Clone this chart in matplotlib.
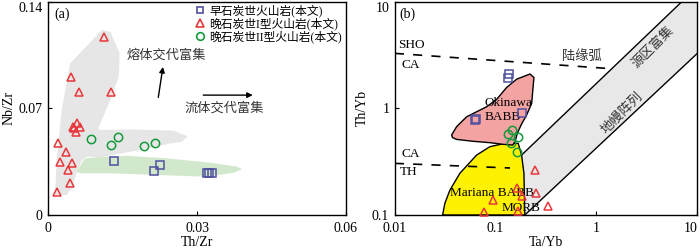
import numpy as np
import matplotlib
matplotlib.use('Agg')
import matplotlib.pyplot as plt
from matplotlib.patches import Polygon
from matplotlib.lines import Line2D
from matplotlib.ticker import NullLocator

plt.rcParams.update({
    'font.family': ['Liberation Serif', 'Noto Sans CJK SC'],
    'font.size': 10, 'axes.linewidth': 1.0,
    'xtick.direction': 'in', 'ytick.direction': 'in',
    'xtick.major.size': 3, 'ytick.major.size': 3,
    'xtick.major.pad': 5, 'ytick.major.pad': 4,
})
BLUE = '#50509e'; RED = '#e8373c'; GREEN = '#159a3c'

# ---------- data: (a) Th/Zr vs Nb/Zr ----------
a_tri_x = [0.0112, 0.0045, 0.0062, 0.0127, 0.0057, 0.0049, 0.0063, 0.0052,
           0.0056, 0.0020, 0.0036, 0.0024, 0.0047, 0.0039, 0.0044, 0.0018]
a_tri_y = [0.1169, 0.0908, 0.0809, 0.0805, 0.0601, 0.0579, 0.0579, 0.0569,
           0.0547, 0.0470, 0.0415, 0.0349, 0.0344, 0.0295, 0.0212, 0.0153]
a_cir_x = [0.0086, 0.0127, 0.0141, 0.0194, 0.0216]
a_cir_y = [0.0499, 0.0462, 0.0509, 0.0455, 0.0472]
a_sq_x = [0.0132, 0.0213, 0.0226, 0.0320, 0.0325, 0.0330]
a_sq_y = [0.0354, 0.0291, 0.0328, 0.0274, 0.0274, 0.0274]

melt_field = [(0.00135, 0.0131), (0.0017, 0.0361), (0.0027, 0.0689), (0.0044, 0.0995),
              (0.0108, 0.1214), (0.0125, 0.1203), (0.0144, 0.1061), (0.0142, 0.0907),
              (0.0125, 0.0754), (0.0101, 0.0569), (0.0105, 0.0558), (0.0172, 0.0562),
              (0.0253, 0.0553), (0.0281, 0.0518), (0.0270, 0.0481), (0.0246, 0.0470),
              (0.0192, 0.0431), (0.0105, 0.0379), (0.0078, 0.0383), (0.0068, 0.0361),
              (0.0057, 0.0273), (0.0047, 0.0175), (0.0037, 0.0131)]
fluid_field = [(0.0057, 0.0284), (0.0074, 0.0372), (0.0111, 0.0382), (0.0158, 0.0389),
               (0.0239, 0.0372), (0.0327, 0.0343), (0.0381, 0.0317), (0.0391, 0.0300),
               (0.0374, 0.0278), (0.0320, 0.0251), (0.0226, 0.0262), (0.0125, 0.0274),
               (0.0064, 0.0274)]

# ---------- data: (b) Ta/Yb vs Th/Yb ----------
b_sq_x = [0.1365, 0.1315, 0.0626, 0.0646, 0.181]
b_sq_y = [2.10, 1.91, 0.777, 0.799, 0.898]
b_cir_x = [0.144, 0.1315, 0.168, 0.142, 0.162]
b_cir_y = [0.626, 0.574, 0.535, 0.470, 0.392]
b_tri_x = [0.245, 0.162, 0.249, 0.181, 0.0933, 0.333, 0.0766, 0.168]
b_tri_y = [0.264, 0.178, 0.162, 0.151, 0.138, 0.121, 0.107, 0.109]

okinawa = [(0.0366, 0.562), (0.0410, 0.673), (0.0516, 0.834), (0.0648, 0.929),
           (0.0814, 1.035), (0.102, 1.21), (0.1286, 1.57), (0.162, 1.88),
           (0.219, 2.10), (0.240, 1.95), (0.234, 1.48), (0.228, 1.114),
           (0.203, 0.865), (0.181, 0.713), (0.164, 0.583), (0.156, 0.486),
           (0.1476, 0.453), (0.119, 0.460), (0.0877, 0.477), (0.060, 0.491),
           (0.041, 0.512), (0.0374, 0.532)]
mariana = [(0.0298, 0.1), (0.0314, 0.129), (0.0352, 0.171), (0.0442, 0.246),
           (0.0648, 0.365), (0.0877, 0.437), (0.1236, 0.470), (0.1675, 0.470),
           (0.181, 0.365), (0.191, 0.246), (0.195, 0.1)]
array_upper = [(0.181, 0.365), (7.03, 10.0)]
array_lower = [(0.195, 0.1), (10.0, 3.27)]
sho_ca = [(0.01, 3.28), (1.45, 2.35)]
ca_th = [(0.01, 0.305), (0.139, 0.276)]

labels = ['早石炭世火山岩(本文)', '晚石炭世I型火山岩(本文)', '晚石炭世II型火山岩(本文)']

fig = plt.figure(figsize=(7.0, 2.48), dpi=100)
ax1 = fig.add_axes([0.069, 0.133, 0.425, 0.860])
ax2 = fig.add_axes([0.564, 0.133, 0.432, 0.860])

mk = dict(ls='none', mfc='none', mew=1.1, zorder=6)

# ---------- panel (a) ----------
ax = ax1
ax.add_patch(Polygon(melt_field, closed=True, fc='#e6e6e6', ec='none', zorder=1))
ax.add_patch(Polygon(fluid_field, closed=True, fc='#d2e8cc', ec='none', zorder=1))
ax.plot(a_sq_x, a_sq_y, marker='s', ms=5.5, mec=BLUE, **mk)
ax.plot(a_tri_x, a_tri_y, marker='^', ms=6, mec=RED, **mk)
ax.plot(a_cir_x, a_cir_y, marker='o', ms=6, mec=GREEN, **mk)
ax.annotate('', xy=(0.0232, 0.0990), xytext=(0.0221, 0.0754),
            arrowprops=dict(arrowstyle='-|>', color='k', lw=1.0, mutation_scale=8))
ax.annotate('', xy=(0.0418, 0.0787), xytext=(0.0307, 0.0787),
            arrowprops=dict(arrowstyle='-|>', color='k', lw=1.0, mutation_scale=8))
ax.text(0.0239, 0.105, '熔体交代富集', fontsize=9.5, ha='center', va='center', color='0.2')
ax.text(0.0355, 0.070, '流体交代富集', fontsize=9.5, ha='center', va='center', color='0.2')
ax.text(0.0012, 0.132, '(a)', fontsize=10, va='center')
ax.set_xlim(0, 0.06); ax.set_ylim(0, 0.14)
ax.set_xticks([0, 0.03, 0.06]); ax.set_xticklabels(['0', '0.03', '0.06'])
ax.set_yticks([0, 0.07, 0.14]); ax.set_yticklabels(['0', '0.07', '0.14'])
ax.get_yticklabels()[-1].set_va('top')
ax.set_xlabel('Th/Zr', labelpad=1)
ax.set_ylabel('Nb/Zr', labelpad=2)
handles = [Line2D([], [], marker='s', ms=5, mec=BLUE, mfc='none', mew=1.2, ls='none'),
           Line2D([], [], marker='^', ms=5.5, mec=RED, mfc='none', mew=1.2, ls='none'),
           Line2D([], [], marker='o', ms=5.5, mec=GREEN, mfc='none', mew=1.2, ls='none')]
ax.legend(handles, labels, loc='upper left', bbox_to_anchor=(0.485, 1.0), frameon=False,
          fontsize=8.5, handlelength=0.8, handletextpad=0.4, labelspacing=0.05,
          borderpad=0.2, borderaxespad=0)

# ---------- panel (b) ----------
ax = ax2
ax.set_xscale('log'); ax.set_yscale('log')
band = [array_upper[0], array_upper[1], (10.0, 10.0), array_lower[1], array_lower[0],
        (0.191, 0.246)]
ax.add_patch(Polygon(band, closed=True, fc='#e8e8e8', ec='none', zorder=1))
for seg in (array_upper, array_lower):
    ax.plot([p[0] for p in seg], [p[1] for p in seg], color='k', lw=1.0, zorder=2)
ax.add_patch(Polygon(mariana, closed=True, fc='#fff200', ec='k', lw=1.0, zorder=2))
ax.add_patch(Polygon(okinawa, closed=True, fc='#f4a3a3', ec='k', lw=1.0, zorder=3))
for seg in (sho_ca, ca_th):
    ax.plot([p[0] for p in seg], [p[1] for p in seg], color='k', lw=1.2,
            dashes=(5.5, 5.5), zorder=4)
ax.plot(b_sq_x, b_sq_y, marker='s', ms=5.5, mec=BLUE, **mk)
ax.plot(b_tri_x, b_tri_y, marker='^', ms=6, mec=RED, clip_on=False, **mk)
ax.plot(b_cir_x, b_cir_y, marker='o', ms=6, mec=GREEN, **mk)
tk = dict(fontsize=9.5, va='center', zorder=5)
ax.text(0.0112, 7.65, '(b)', fontsize=10, va='center')
ax.text(0.0107, 3.92, 'SHO', **tk)
ax.text(0.0117, 2.55, 'CA', **tk)
ax.text(0.0117, 0.373, 'CA', **tk)
ax.text(0.0112, 0.255, 'TH', **tk)
ax.text(0.714, 3.04, '陆缘弧', ha='center', color='0.2', **tk)
ax.text(0.0783, 1.114, 'Okinawa', **tk)
ax.text(0.0783, 0.823, 'BABB', **tk)
ax.text(0.0352, 0.160, 'Mariana BABB', **tk)
ax.text(0.1148, 0.1155, 'MORB', **tk)
ax.text(3.67, 3.78, '源区富集', ha='center', rotation=45, color='0.2', **tk)
ax.text(1.78, 0.898, '地幔阵列', ha='center', rotation=45, color='0.2', **tk)
ax.set_xlim(0.01, 10); ax.set_ylim(0.1, 10)
ax.set_xticks([0.01, 0.1, 1, 10]); ax.set_xticklabels(['0.01', '0.1', '1', '10'])
ax.set_yticks([0.1, 1, 10]); ax.set_yticklabels(['0.1', '1', '10'])
ax.xaxis.set_minor_locator(NullLocator()); ax.yaxis.set_minor_locator(NullLocator())
ax.get_yticklabels()[-1].set_va('top')
ax.get_xticklabels()[-1].set_ha('right')
ax.set_xlabel('Ta/Yb', labelpad=1)
ax.set_ylabel('Th/Yb', labelpad=2)

fig.savefig('out.png', dpi=100)
